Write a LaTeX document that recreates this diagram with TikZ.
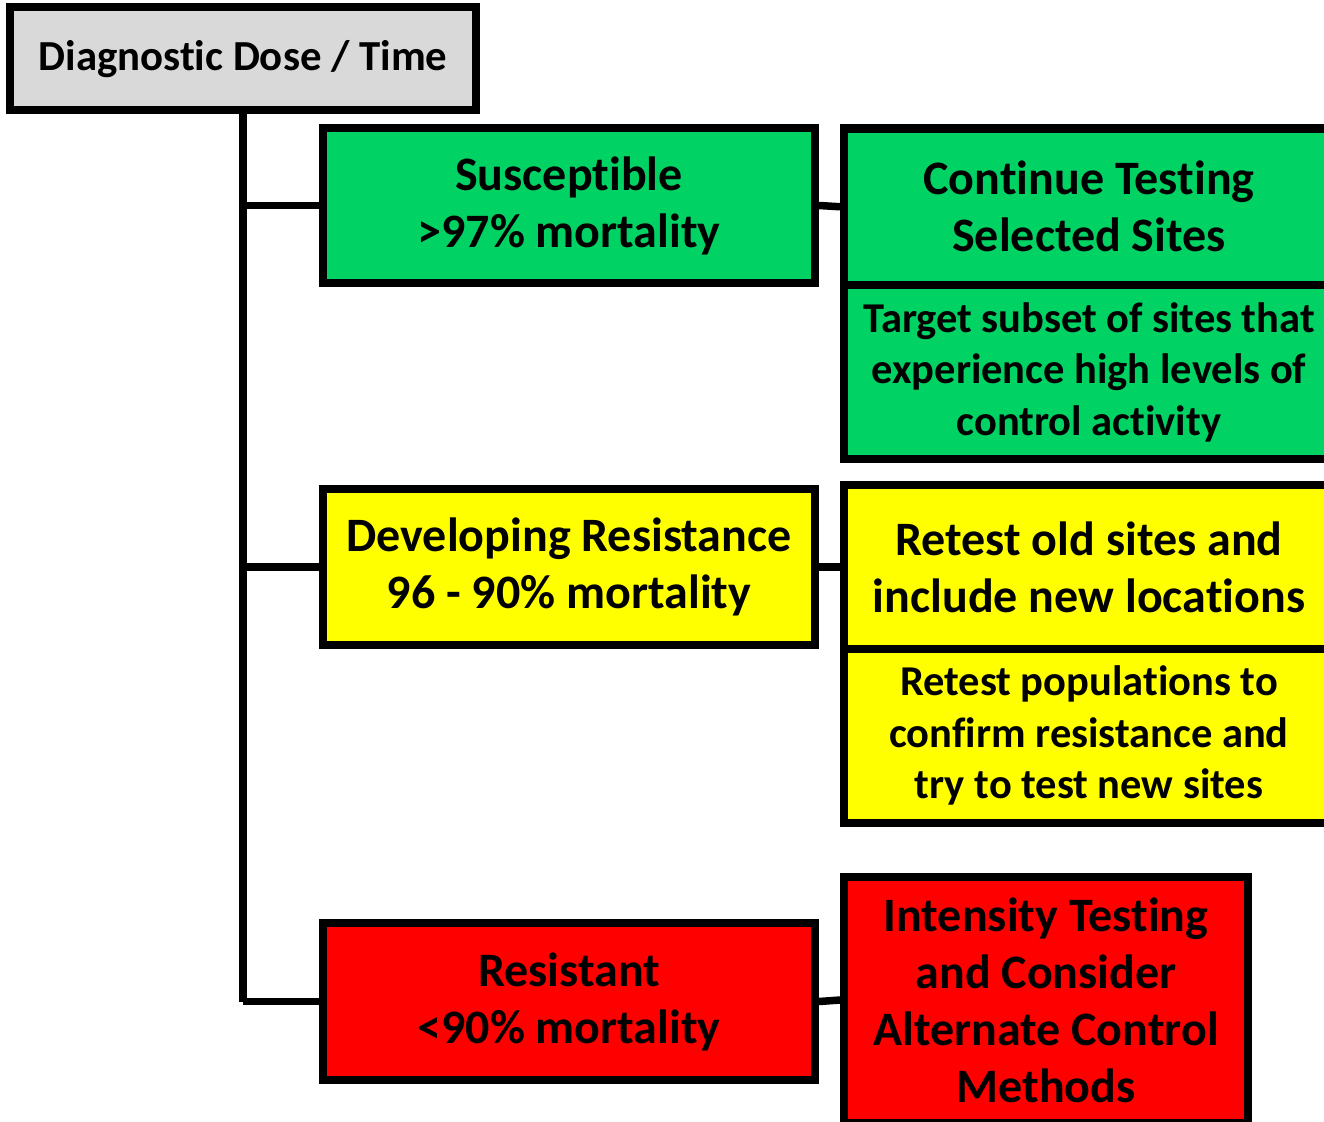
\documentclass[tikz,border=0pt]{standalone}
\usepackage{fontspec}
\setmainfont{Carlito}[Ligatures={NoCommon}]
\definecolor{rootgray}{RGB}{217,217,217}
\definecolor{okgreen}{RGB}{0,210,100}
\definecolor{warnyellow}{RGB}{255,255,0}
\definecolor{alertred}{RGB}{255,0,0}
\begin{document}
\begin{tikzpicture}[x=1pt,y=-1pt,
  box/.style={draw=black,line width=8pt,rectangle,inner sep=0pt,align=center,
    font=\bfseries\fontsize{48}{57}\selectfont},
  smallbox/.style={box,font=\bfseries\fontsize{42.5}{51.5}\selectfont},
  link/.style={draw=black,line width=7.5pt}]
\useasboundingbox (0,0) rectangle (1324,1121);
\clip (0,0) rectangle (1324,1121);
% root
\node[box,fill=rootgray,minimum width=466pt,minimum height=102.5pt,
  font=\bfseries\fontsize{42.8}{50}\selectfont] (root) at (243,58.75) {Diagnostic Dose / Time};
% outcome classes
\node[box,fill=okgreen,minimum width=492pt,minimum height=155pt] (sus) at (569,205.5) {Susceptible\\>97\% mortality};
\node[box,fill=warnyellow,minimum width=492pt,minimum height=156pt] (dev) at (569,567) {Developing Resistance\\96 - 90\% mortality};
\node[box,fill=alertred,minimum width=492pt,minimum height=157pt] (res) at (569,1001.5) {Resistant\\<90\% mortality};
% actions
\node[box,fill=okgreen,minimum width=490pt,minimum height=156.5pt] (cont) at (1089,206.75) {Continue Testing\\Selected Sites};
\node[smallbox,fill=okgreen,minimum width=490pt,minimum height=174pt] (target) at (1089,372) {Target subset of sites that\\experience high levels of\\control activity};
\node[box,fill=warnyellow,minimum width=490pt,minimum height=164pt] (retest) at (1089,567) {Retest old sites and\\include new locations};
\node[smallbox,fill=warnyellow,minimum width=490pt,minimum height=173.5pt] (confirm) at (1089,735.75) {Retest populations to\\confirm resistance and\\try to test new sites};
\node[box,fill=alertred,minimum width=404pt,minimum height=246pt] (intens) at (1046,1000) {Intensity Testing\\and Consider\\Alternate Control\\Methods};
% connectors
\draw[link] (root.south) -- (root.south |- res.west);
\draw[link] (root.south |- sus.west) -- (sus.west);
\draw[link] (root.south |- dev.west) -- (dev.west);
\draw[link] (root.south |- res.west) -- (res.west);
\draw[link] (sus.east) -- (cont.west);
\draw[link] (dev.east) -- (retest.west);
\draw[link] (res.east) -- (intens.west);
\end{tikzpicture}
\end{document}
